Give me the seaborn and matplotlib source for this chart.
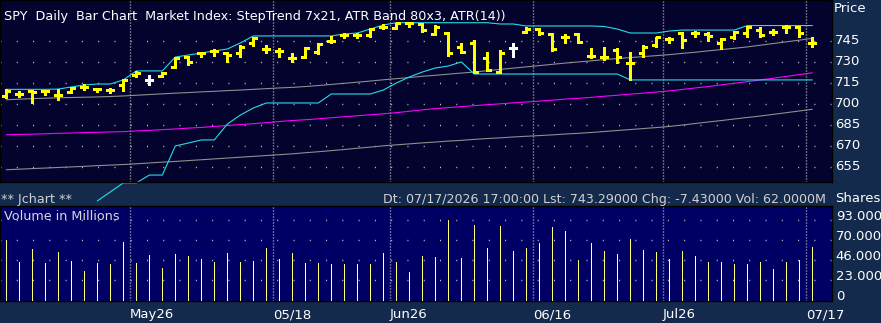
import matplotlib
matplotlib.use("Agg")
import matplotlib.pyplot as plt
import matplotlib.transforms as mtransforms
import numpy as np
import pandas as pd
import seaborn as sns

# ---- data ----
price_open = [705.9, 707.3, 709.4, 709.4, 706.6, 708.7, 712.3, 710.8, 710.1, 713.7,
              720.8, 717.3, 720.1, 726.5, 733.6, 736.5, 737.9, 736.5, 736.5, 743.6,
              739.3, 737.9, 732.9, 733.6, 737.2, 745.0, 749.3, 749.3, 749.3, 755.0,
              754.3, 757.8, 757.1, 750.0, 750.7, 740.7, 743.6, 732.9, 722.9, 740.0,
              751.4, 753.5, 750.0, 747.9, 750.0, 734.3, 733.6, 738.6, 729.3, 736.5,
              742.2, 746.4, 750.7, 750.7, 750.0, 743.6, 747.9, 750.7, 752.8, 751.4,
              755.0, 755.0, 743.6]
price_high = [710.8, 709.4, 710.1, 710.1, 710.8, 712.3, 714.4, 711.6, 711.6, 718.0,
              723.7, 720.8, 722.9, 733.6, 734.3, 737.2, 739.3, 737.2, 742.2, 747.9,
              742.2, 740.0, 736.5, 740.7, 743.6, 748.6, 750.7, 750.7, 754.3, 757.1,
              757.8, 758.5, 757.8, 756.4, 751.4, 743.6, 745.7, 737.2, 738.6, 743.6,
              755.0, 754.3, 750.7, 750.0, 750.7, 740.0, 740.7, 740.0, 737.2, 742.2,
              747.9, 747.9, 751.4, 752.1, 751.4, 747.1, 752.1, 755.7, 755.0, 753.5,
              756.4, 755.7, 747.9]
price_low = [704.4, 705.2, 700.9, 706.6, 703.0, 708.0, 710.1, 708.7, 708.0, 709.4,
             719.4, 713.7, 719.4, 725.8, 727.9, 733.6, 734.3, 730.1, 733.6, 741.5,
             736.5, 733.6, 730.1, 732.9, 735.8, 743.6, 747.1, 747.1, 747.9, 753.5,
             753.5, 755.0, 751.4, 749.3, 734.3, 736.5, 722.2, 723.7, 722.2, 733.6,
             750.7, 749.3, 737.9, 743.6, 743.6, 732.9, 731.5, 729.3, 717.3, 733.6,
             740.7, 743.6, 740.0, 747.9, 745.0, 739.3, 746.4, 747.9, 747.9, 749.3,
             750.7, 747.9, 740.7]
price_close = [709.4, 707.3, 708.7, 709.4, 706.6, 711.9, 712.3, 710.8, 710.1, 717.3,
               722.2, 717.3, 722.2, 732.9, 730.1, 736.5, 737.9, 735.0, 740.7, 747.1,
               739.3, 737.9, 732.9, 740.0, 742.9, 745.0, 749.3, 749.3, 753.5, 755.0,
               757.8, 757.8, 752.8, 755.0, 736.5, 737.2, 722.9, 724.4, 736.5, 740.0,
               753.5, 750.7, 739.3, 747.9, 744.3, 734.3, 733.6, 733.6, 729.3, 740.7,
               747.9, 746.4, 745.7, 750.7, 748.6, 746.4, 751.4, 755.0, 749.3, 751.4,
               755.0, 750.7, 743.29]
white_bars = [11, 39]

trend_fast = [703.2, 703.6, 704.0, 704.3, 704.6, 704.8, 705.0, 705.2, 705.5, 705.9,
              706.4, 706.9, 707.4, 707.9, 708.3, 708.8, 709.2, 709.7, 710.1, 710.6,
              711.1, 711.6, 712.0, 712.6, 713.3, 714.1, 714.9, 715.7, 716.5, 717.4,
              718.2, 719.0, 719.9, 720.6, 721.4, 722.2, 722.9, 723.9, 724.8, 725.7,
              726.6, 727.5, 728.4, 729.3, 730.1, 730.9, 731.8, 732.5, 733.2, 733.9,
              734.6, 735.3, 736.2, 737.0, 738.0, 738.9, 739.8, 740.8, 742.0, 743.2,
              744.4, 745.6, 746.9]
trend_slow = [678.3, 678.5, 678.7, 679.0, 679.3, 679.5, 679.8, 680.0, 680.3, 680.5,
              681.0, 681.4, 681.9, 682.4, 683.0, 683.5, 684.2, 684.9, 685.5, 686.2,
              686.9, 687.7, 688.4, 689.0, 689.6, 690.4, 691.1, 691.8, 692.5, 693.2,
              694.0, 695.0, 696.0, 696.9, 697.6, 698.3, 699.0, 699.7, 700.3, 701.0,
              701.6, 702.2, 702.9, 703.7, 704.2, 704.9, 705.7, 706.4, 707.2, 707.9,
              708.7, 709.5, 710.5, 711.6, 712.6, 713.8, 714.9, 716.1, 717.3, 718.5,
              719.8, 721.1, 722.4]
band_mid = [653.4, 653.8, 654.2, 654.6, 655.0, 655.4, 655.8, 656.3, 656.7, 657.1,
            657.6, 658.2, 658.8, 659.3, 659.9, 660.5, 661.1, 661.7, 662.3, 662.9,
            663.5, 664.1, 664.7, 665.5, 666.2, 667.0, 667.8, 668.7, 669.5, 670.4,
            671.1, 671.8, 672.5, 673.1, 673.8, 674.3, 675.0, 675.6, 676.1, 676.7,
            677.2, 677.7, 678.2, 678.8, 679.3, 679.9, 680.6, 681.3, 682.0, 682.7,
            683.4, 684.2, 685.2, 686.3, 687.4, 688.4, 689.5, 690.6, 691.6, 692.8,
            694.0, 695.2, 696.4]
band_upper = [710.6, 710.6, 710.6, 710.6, 710.8, 712.3, 713.7, 714.4, 714.4, 717.3,
              723.7, 723.7, 723.7, 733.6, 735.0, 736.5, 737.9, 739.3, 743.6, 748.6,
              748.6, 748.6, 748.6, 748.6, 748.6, 748.6, 750.0, 750.7, 753.5, 756.4,
              758.0, 758.0, 758.0, 758.0, 758.0, 758.0, 758.0, 758.0, 757.1, 757.1,
              755.7, 755.7, 755.7, 755.7, 755.7, 755.7, 755.3, 753.5, 750.7, 750.7,
              750.7, 752.1, 752.8, 752.8, 752.8, 752.8, 752.8, 756.0, 756.0, 756.0,
              756.0, 756.0, 756.0]
band_lower = [None, None, None, None, None, None, None, 631.2, 637.6, 644.0,
              644.0, 649.6, 649.6, 670.3, 672.4, 674.6, 674.6, 685.9, 692.3, 697.3,
              700.9, 700.9, 700.9, 700.9, 700.9, 707.3, 707.3, 707.3, 707.3, 710.1,
              715.1, 719.4, 722.9, 725.8, 727.2, 730.1, 721.5, 721.5, 721.5, 721.5,
              721.5, 721.5, 721.5, 721.5, 721.5, 721.5, 721.5, 721.5, 717.3, 717.3,
              717.3, 717.3, 717.3, 717.3, 717.3, 717.3, 717.3, 717.3, 717.3, 717.3,
              717.3, 717.3, 717.3]

volume = [69.5, 44.2, 59.5, 43.0, 55.7, 45.3, 33.9, 43.0, 41.9, 67.2,
          43.0, 52.2, 37.3, 53.4, 51.1, 47.6, 44.2, 54.5, 44.2, 45.3,
          60.3, 47.6, 54.5, 43.0, 43.0, 41.9, 41.9, 41.9, 41.9, 54.5,
          44.2, 32.7, 51.1, 49.9, 92.4, 48.8, 86.7, 60.6, 85.5, 56.8,
          60.6, 66.0, 84.4, 79.8, 46.5, 66.0, 56.8, 53.4, 70.6, 58.0,
          55.7, 47.6, 56.8, 51.1, 44.2, 44.2, 41.9, 41.9, 44.2, 36.2,
          44.2, 46.5, 62.0]

date_breaks = [9.5, 20.5, 29.5, 40.5, 50.5, 61.5]
date_labels = ["May26", "05/18", "Jun26", "06/16", "Jul26", "07/17"]
price_ticks = [655, 670, 685, 700, 715, 730, 745]
volume_ticks = [0, 23, 46, 70, 93]
volume_labels = ["0", "23.0000M", "46.0000M", "70.0000M", "93.0000M"]

title = "SPY  Daily  Bar Chart  Market Index: StepTrend 7x21, ATR Band 80x3, ATR(14))"
status = "Dt: 07/17/2026 17:00:00 Lst: 743.29000 Chg: -7.43000 Vol: 62.0000M"

# ---- style ----
FIG_BG = "#142a4d"
PRICE_BG = "#03032e"
VOL_BG = "#000064"
YELLOW = "#ffff00"
CYAN = "#22e0e8"
GRAY = "#8f8f8f"
MAGENTA = "#ff00ff"
DOT = "#c8c8c8"
FS = 9.2
PX = 0.72  # one pixel in points

sns.set_style("dark")
plt.rcParams["font.family"] = ["DejaVu Sans"]

W, H, DPI = 881, 323, 100
fig = plt.figure(figsize=(W / DPI, H / DPI), dpi=DPI, facecolor=FIG_BG)
ax = fig.add_axes([0, 1 - 182.3 / H, 831.7 / W, 182.3 / H])
axv = fig.add_axes([0, 1 - 300.5 / H, 831.7 / W, (300.5 - 206) / H])

n = len(price_close)
idx = np.arange(n)
df = pd.DataFrame({
    "idx": idx, "open": price_open, "high": price_high, "low": price_low,
    "close": price_close, "fast": trend_fast, "slow": trend_slow,
    "mid": band_mid, "upper": band_upper,
    "lower": pd.to_numeric(pd.Series(band_lower), errors="coerce"),
    "volume": volume,
})
df["tone"] = np.where(df["idx"] % 2 == 0, "a", "b")

for a, bg in ((ax, PRICE_BG), (axv, VOL_BG)):
    a.set_facecolor(bg)
    a.set_xlim(-0.485, 63.49)
    for s in a.spines.values():
        s.set_color("black")
        s.set_linewidth(1)
    a.xaxis.grid(False)
    for xb in date_breaks:
        a.axvline(xb, color=DOT, lw=1, linestyle=(0, (PX, 2 * PX)), zorder=1)

# ---- price panel ----
ax.set_ylim(644.45, 774.18)
ax.set_yticks(price_ticks)
ax.yaxis.grid(True, color=DOT, lw=1, linestyle=(0, (PX, 11.0)))
ax.yaxis.tick_right()
ax.tick_params(axis="y", length=0, pad=2.4, labelcolor="white", labelsize=FS + 0.3)
ax.tick_params(axis="x", length=0, labelbottom=False)
shift = mtransforms.ScaledTranslation(0, -0.025, fig.dpi_scale_trans)
for lbl in ax.get_yticklabels():
    lbl.set_verticalalignment("baseline")
    lbl.set_transform(lbl.get_transform() + shift)

line_kw = dict(lw=PX * 1.1, ax=ax)
sns.lineplot(data=df, x="idx", y="mid", color=GRAY, **line_kw)
sns.lineplot(data=df, x="idx", y="slow", color=MAGENTA, **line_kw)
sns.lineplot(data=df, x="idx", y="fast", color=GRAY, **line_kw)
sns.lineplot(data=df, x="idx", y="upper", color=CYAN, **line_kw)
sns.lineplot(data=df.dropna(subset=["lower"]), x="idx", y="lower", color=CYAN, **line_kw)
ax.lines[-1].set_clip_on(False)

bar_colors = ["white" if i in white_bars else YELLOW for i in idx]
tick = 0.3
bar_lw = 0.8
ax.vlines(idx, df["low"], df["high"], colors=bar_colors, lw=bar_lw, antialiased=False, zorder=5)
ax.hlines(df["open"], idx - tick, idx, colors=bar_colors, lw=bar_lw, antialiased=False, zorder=5)
ax.hlines(df["close"], idx, idx + tick, colors=bar_colors, lw=bar_lw, antialiased=False, zorder=5)
ax.set_xlabel("")
ax.set_ylabel("")

# ---- volume panel ----
sns.barplot(data=df, x="idx", y="volume", hue="tone", native_scale=True,
            palette={"a": "#ffff70", "b": "white"}, width=0.09, saturation=1,
            linewidth=0, legend=False, ax=axv, zorder=3)
axv.set_xlim(-0.485, 63.49)
axv.set_ylim(0, 108.5)
axv.set_yticks(volume_ticks, volume_labels)
axv.yaxis.grid(True, color=DOT, lw=1, linestyle=(0, (PX, 11.0)))
axv.yaxis.tick_right()
axv.tick_params(axis="y", length=0, pad=3, labelcolor="white", labelsize=FS + 0.3)
for lbl in axv.get_yticklabels():
    lbl.set_verticalalignment("baseline")
axv.set_xticks(date_breaks, date_labels)
axv.tick_params(axis="x", length=0, pad=5.5, labelcolor="white", labelsize=FS + 0.3)
for lbl in axv.get_xticklabels():
    lbl.set_horizontalalignment("left")
axv.set_xlabel("")
axv.set_ylabel("")
axv.text(4 / 831.7, 1 - 14.5 / 94.5, "Volume in Millions", transform=axv.transAxes,
         color="#d8d8d8", fontsize=FS, va="baseline", ha="left")

# ---- header texts ----
fig.text(4 / W, 1 - 20 / H, title, color="white", fontsize=FS, va="baseline", ha="left")
fig.text(834 / W, 1 - 11.7 / H, "Price", color="white", fontsize=FS + 0.3, va="baseline", ha="left")
fig.text(1 / W, 1 - 202.5 / H, "** Jchart **", color="#d0d0d0", fontsize=FS, va="baseline", ha="left")
fig.text(826 / W, 1 - 202.5 / H, status, color="#d0d0d0", fontsize=FS * 0.99, va="baseline", ha="right")
fig.text(835 / W, 1 - 202.5 / H, "Shares", color="white", fontsize=FS + 0.3, va="baseline", ha="left")

fig.savefig("out.png", dpi=DPI, facecolor=FIG_BG)
